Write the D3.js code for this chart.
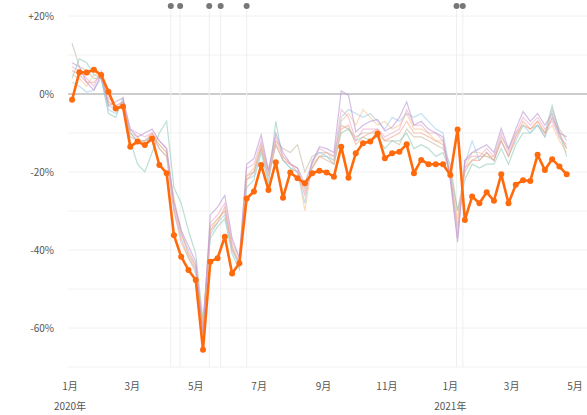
<!DOCTYPE html>
<html>
<head>
<meta charset="utf-8">
<script src="https://cdn.jsdelivr.net/npm/d3@7"></script>
<style>
  body { margin: 0; background: #fff; }
  text { font-family: "Noto Sans CJK JP", "Noto Sans", sans-serif; }
</style>
</head>
<body>
<div id="chart"></div>
<script>
// weekly values, first week 2020-01-03
const startDate = "2020-01-03";

const mainSeries = [
  -1.5, 5.6, 5.5, 6.2, 4.9, 0.6, -3.7, -3.2, -13.5, -12.2, -13.1, -11.4, -18.2, -20.3,
  -36.2, -41.7, -45.1, -47.7, -65.6, -43.0, -42.1, -36.6, -46.0, -43.4, -26.8, -25.0,
  -18.2, -24.6, -17.5, -26.6, -20.1, -21.6, -22.9, -20.3, -19.7, -20.1, -21.2, -13.5,
  -21.5, -15.2, -12.6, -12.2, -10.1, -16.5, -15.2, -14.8, -12.9, -20.3, -16.9, -18.0,
  -18.0, -18.0, -20.8, -9.1, -32.3, -26.3, -28.0, -25.2, -27.4, -20.6, -28.0, -23.3,
  -22.1, -22.3, -15.6, -19.5, -16.7, -18.6, -20.6
];

const purple = [
  8, 7, 3, 1, 5, -3, -2, -1, -9, -11, -10, -9, -12, -14, -28, -35, -39, -43, -62, -31,
  -29, -26, -37, -42, -18, -16.5, -10.5, -19.5, -10, -15, -17.8, -19, -23, -17.5, -13.5,
  -14, -15, 0.8, -0.3, -9.7, -8, -7, -6.5, -9.5, -8.5, -6, -2, -8, -7, -9, -10, -11, -22,
  -38, -17, -15, -14, -13, -15, -8.8, -14, -9, -4.5, -7, -5, -8, -5, -10, -11
];
const lightBlue = [
  3, 2, 0.5, 1, 4, -4, -5, -2, -10, -12, -12, -11, -14, -16, -30, -37, -42, -46, -60, -36,
  -33, -31, -40, -44, -22, -21, -14, -22, -13, -17, -19, -20, -28, -17, -15, -16, -17, -6,
  -4, -5, -6, -5, -7, -9, -6, -7, -5, -6, -5, -7, -9, -10, -20, -36, -18, -12, -17, -15,
  -17, -12, -16, -12, -8, -10, -8, -11, -6, -11, -14
];
const peach = [
  5, 4, 2, 5, 5, -2, -4, -3, -10, -11, -13, -10, -13, -15, -27, -36, -41, -45, -59, -35,
  -32, -30, -39, -43, -21, -19, -13, -21, -12, -16, -18, -19, -30, -18, -16, -15, -17, -7,
  -5, -8, -4, -6, -8, -7, -9, -8, -5, -9, -9, -10, -12, -12, -21, -32, -19, -15, -15, -16,
  -16, -12, -16, -11, -8, -9, -7, -10, -8, -12, -15
];
const pink = [
  7, 6, 4, 2, 6, -1, -3, -2, -9, -10, -11, -10, -12, -14, -29, -36, -40, -44, -60, -33,
  -31, -28, -38, -42, -19, -18, -12, -20, -11, -16, -18, -19, -25, -18, -14, -15, -16, -4,
  -6, -12, -9, -9, -9, -11, -10, -9, -4, -8, -8, -10, -10, -12, -22, -37, -17, -16, -16,
  -14, -16, -10, -15, -10, -6, -8, -6, -9, -7, -11, -13
];
const teal = [
  4, 9, 8, 5, 4, -5, -6, -1, -12, -18, -20, -15, -10, -7, -24, -28, -35, -41, -58, -37,
  -34, -32, -41, -45, -24, -22, -15, -23, -7, -17, -19, -20, -24, -19, -16, -16, -18, -10,
  -9, -12, -11, -12, -11, -14, -12, -12, -10, -14, -13, -14, -16, -15, -20, -30, -22, -18,
  -19, -18, -18, -14, -18, -13, -10, -10, -8, -10, -3, -10, -16
];
const greyBrown = [
  13, 7, 6, 4, 4, -3, -4, -2, -10, -12, -12, -11, -13, -15, -27, -35, -41, -44, -59, -34,
  -32, -30, -39, -44, -21, -20, -13, -20, -12, -14, -15, -13, -20, -16, -15, -15, -16, -8,
  -9, -11, -10, -10, -10, -12, -12, -13, -9, -11, -11, -12, -13, -14, -18, -30, -20, -17,
  -16, -16, -17, -11, -14, -10, -8, -9, -8, -11, -4, -9, -12
];
const salmon = [
  6, 5, 3, 3, 5, -2, -3, -2, -11, -12, -12, -10, -14, -16, -30, -38, -42, -45, -61, -35,
  -33, -29, -40, -43, -22, -20, -14, -21, -13, -17, -18, -20, -26, -19, -16, -17, -18, -9,
  -8, -13, -11, -10, -9, -12, -11, -10, -7, -10, -10, -11, -12, -13, -21, -34, -19, -17,
  -17, -15, -17, -12, -16, -11, -7, -9, -7, -10, -6, -10, -14
];

const backSeries = [
  { name: "greyBrown", color: "#c4b8a4", values: greyBrown },
  { name: "teal", color: "#8ec9b8", values: teal },
  { name: "peach", color: "#f9c48a", values: peach },
  { name: "lightBlue", color: "#9fcbe8", values: lightBlue },
  { name: "salmon", color: "#f4a58e", values: salmon },
  { name: "pink", color: "#eeaacb", values: pink },
  { name: "purple", color: "#b892d2", values: purple }
];

const eventDates = ["2020-04-07", "2020-04-16", "2020-05-14", "2020-05-25", "2020-06-19",
  "2021-01-07", "2021-01-13"];

const yTicks = [20, 0, -20, -40, -60];
const yTickLabels = ["+20%", "0%", "-20%", "-40%", "-60%"];
const gridValues = [20, 10, 0, -10, -20, -30, -40, -50, -60, -70];
const xTickDates = ["2020-01-01", "2020-03-01", "2020-05-01", "2020-07-01", "2020-09-01",
  "2020-11-01", "2021-01-01", "2021-03-01", "2021-05-01"];
const xTickLabels = ["1月", "3月", "5月", "7月", "9月", "11月", "1月", "3月", "5月"];
const yearLabels = [{ date: "2020-01-01", text: "2020年" }, { date: "2021-01-01", text: "2021年" }];

const width = 587;
const height = 415;
const parse = d3.timeParse("%Y-%m-%d");
const start = parse(startDate);
const dates = mainSeries.map((d, i) => d3.timeDay.offset(start, i * 7));

const svg = d3.select('#chart')
  .append('svg')
  .attr('width', width)
  .attr('height', height);

const x = d3.scaleTime()
  .domain([parse("2020-01-01"), parse("2021-05-01")])
  .range([70, 575]);

const y = d3.scaleLinear()
  .domain([-70, 20])
  .range([367, 16]);

// grid
svg.append('g')
  .selectAll('line')
  .data(gridValues)
  .join('line')
  .attr('x1', 68)
  .attr('x2', width)
  .attr('y1', d => y(d))
  .attr('y2', d => y(d))
  .attr('stroke', d => d === 0 ? '#bdbdbd' : '#f2f2f2')
  .attr('stroke-width', d => d === 0 ? 1.5 : 1);

// event lines + dots
const ev = svg.append('g');
ev.selectAll('line')
  .data(eventDates)
  .join('line')
  .attr('x1', d => x(parse(d)))
  .attr('x2', d => x(parse(d)))
  .attr('y1', 10)
  .attr('y2', y(-70))
  .attr('stroke', '#efefef')
  .attr('stroke-width', 1);
ev.selectAll('circle')
  .data(eventDates)
  .join('circle')
  .attr('cx', d => x(parse(d)))
  .attr('cy', 6)
  .attr('r', 3)
  .attr('fill', '#777');

// y labels
svg.append('g')
  .selectAll('text')
  .data(yTicks)
  .join('text')
  .attr('x', 54)
  .attr('y', d => y(d) + 4)
  .attr('text-anchor', 'end')
  .attr('font-size', '10px')
  .attr('fill', '#555')
  .text((d, i) => yTickLabels[i]);

// x labels
svg.append('g')
  .selectAll('text')
  .data(xTickDates)
  .join('text')
  .attr('x', d => x(parse(d)))
  .attr('y', 390)
  .attr('text-anchor', 'middle')
  .attr('font-size', '10px')
  .attr('fill', '#555')
  .text((d, i) => xTickLabels[i]);

svg.append('g')
  .selectAll('text')
  .data(yearLabels)
  .join('text')
  .attr('x', d => x(parse(d.date)))
  .attr('y', 410)
  .attr('text-anchor', 'middle')
  .attr('font-size', '10px')
  .attr('fill', '#555')
  .text(d => d.text);

const line = d3.line()
  .x((d, i) => x(dates[i]))
  .y(d => y(d));

// background lines
svg.append('g')
  .selectAll('path')
  .data(backSeries)
  .join('path')
  .attr('d', d => line(d.values))
  .attr('fill', 'none')
  .attr('stroke', d => d.color)
  .attr('stroke-width', 1.2)
  .attr('opacity', 0.6);

// main line
svg.append('path')
  .attr('d', line(mainSeries))
  .attr('fill', 'none')
  .attr('stroke', '#ff6a0d')
  .attr('stroke-width', 2.6)
  .attr('stroke-linejoin', 'round');

svg.append('g')
  .selectAll('circle')
  .data(mainSeries)
  .join('circle')
  .attr('cx', (d, i) => x(dates[i]))
  .attr('cy', d => y(d))
  .attr('r', 3)
  .attr('fill', '#ff6a0d');
</script>
</body>
</html>
